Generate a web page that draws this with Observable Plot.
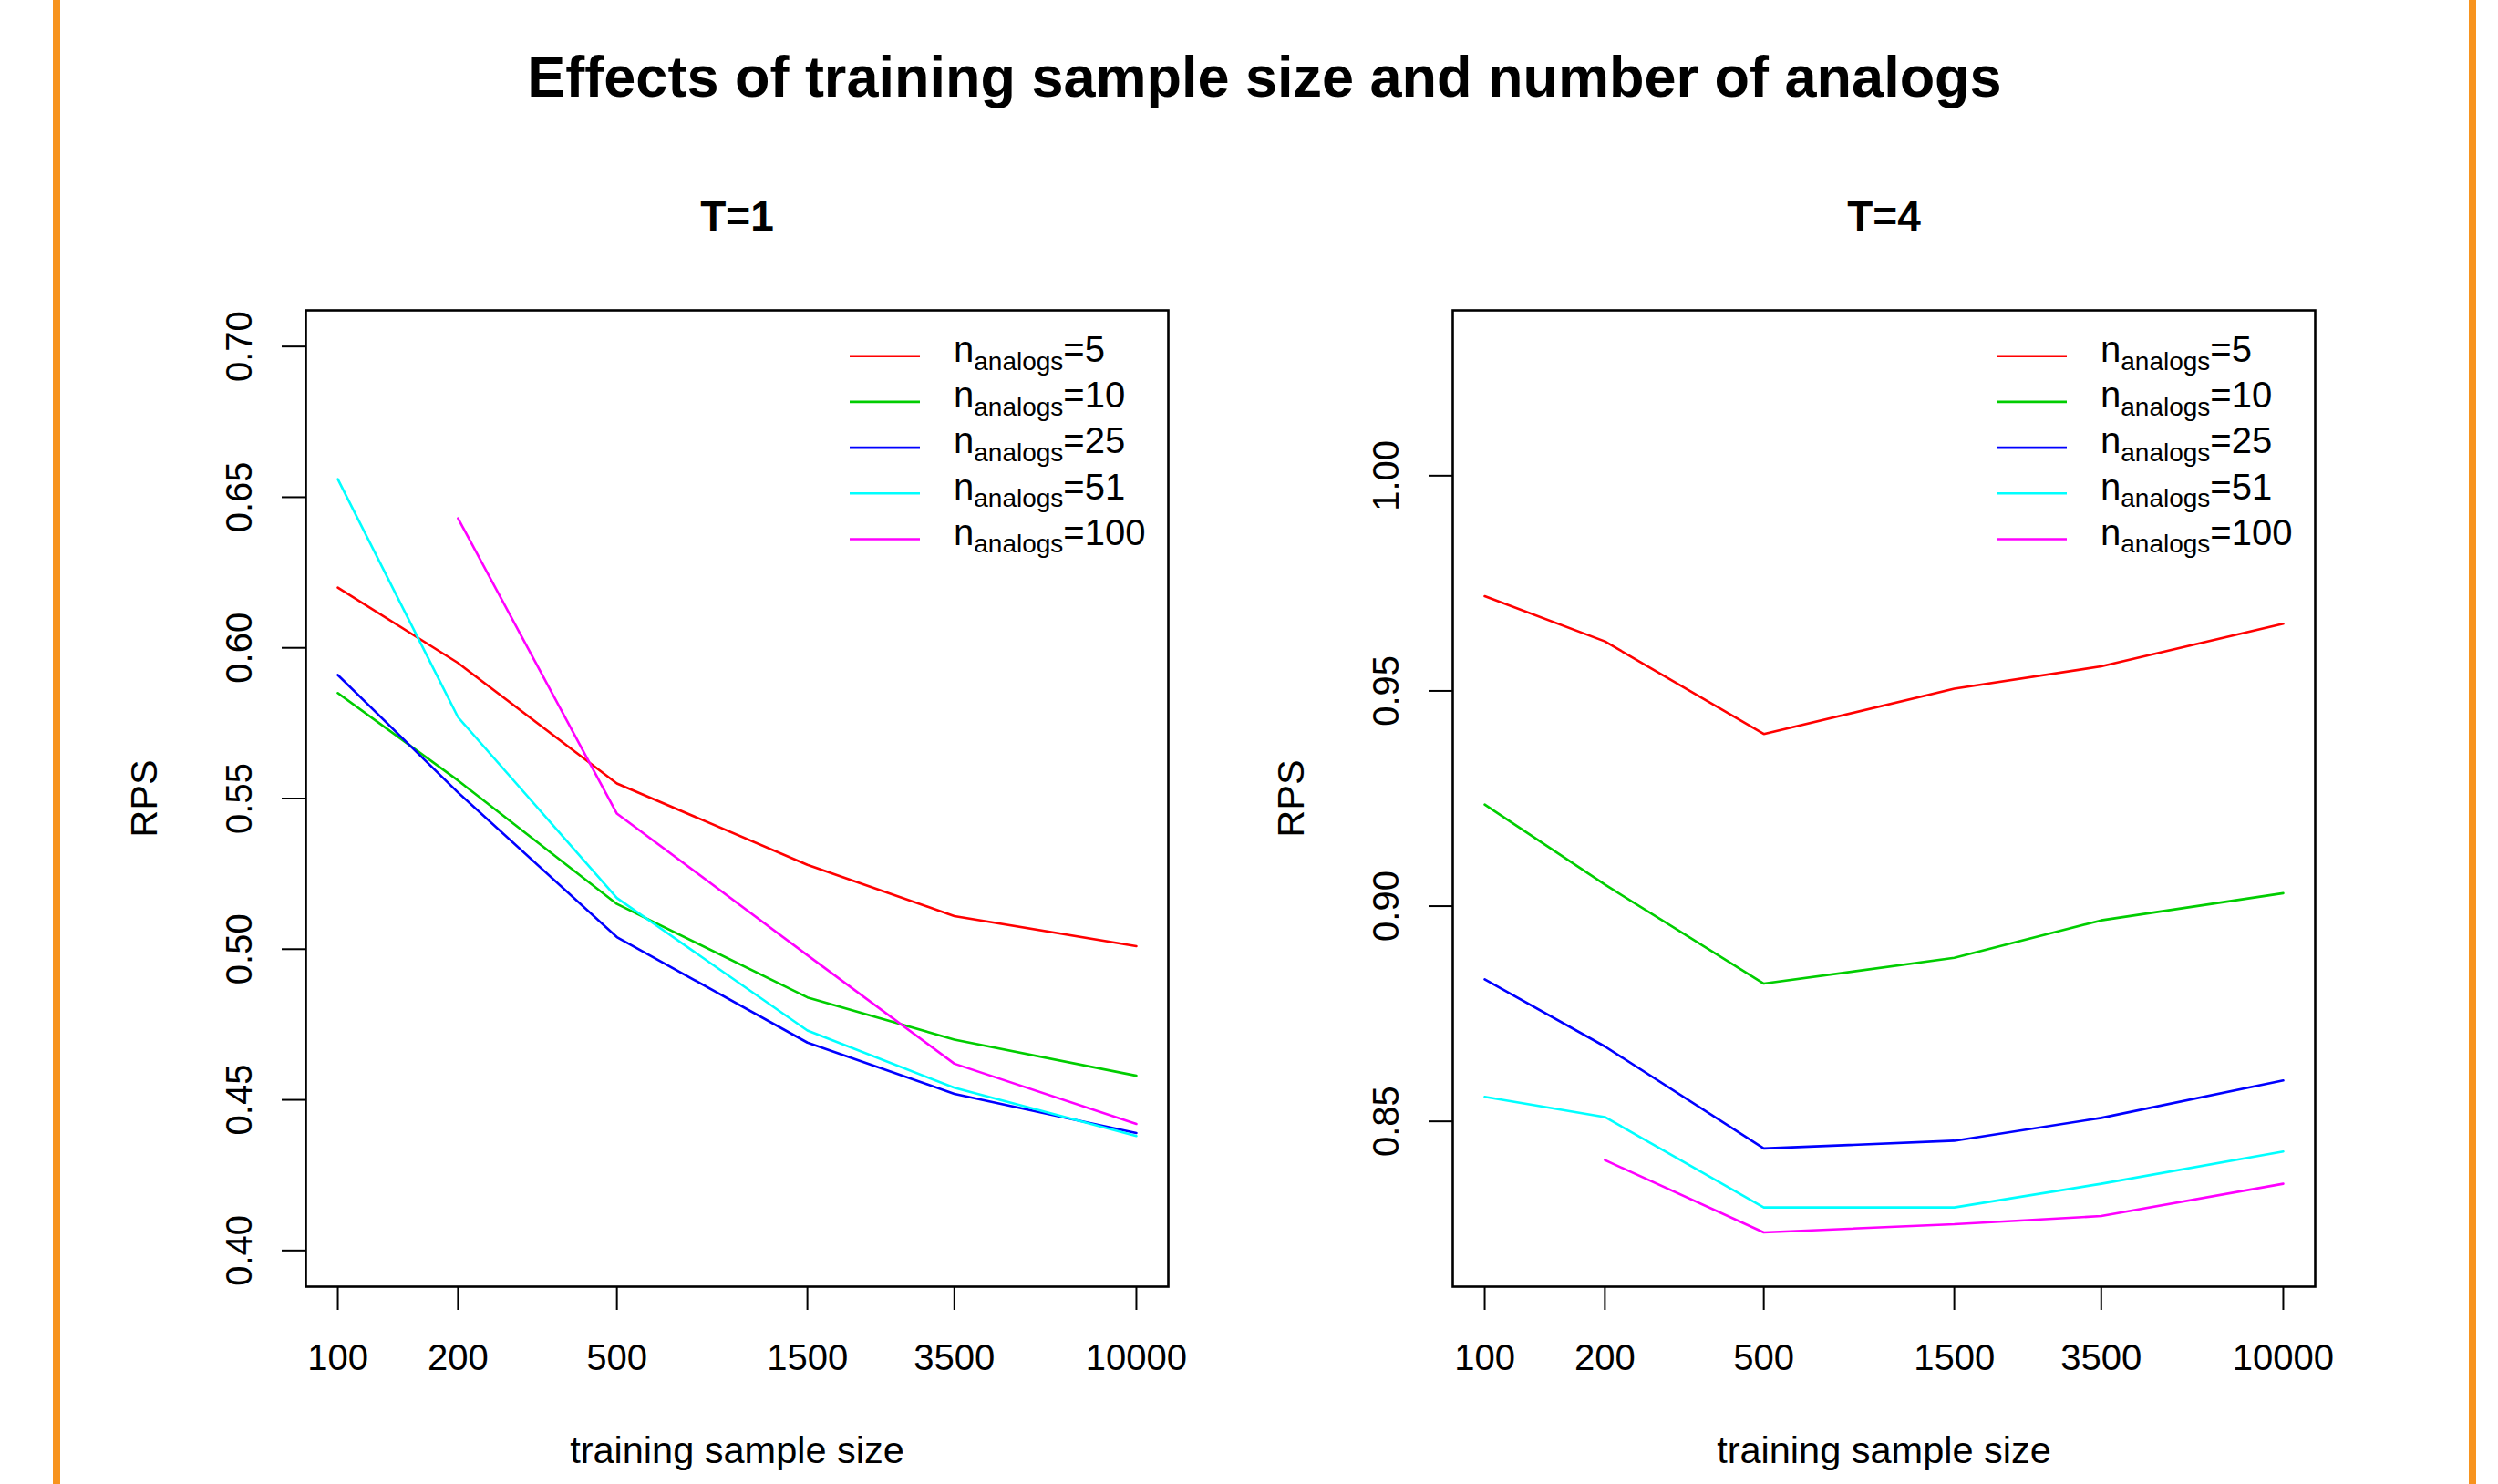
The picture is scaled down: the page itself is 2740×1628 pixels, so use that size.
<!DOCTYPE html>
<html>
<head>
<meta charset="utf-8">
<script src="https://cdn.jsdelivr.net/npm/d3@7"></script>
<script src="https://cdn.jsdelivr.net/npm/@observablehq/plot@0.6"></script>
<style>
  html, body { margin: 0; padding: 0; background: #fff; }
  #page { position: relative; width: 2740px; height: 1628px; overflow: hidden; background: #fff;
          font-family: "Liberation Sans", Arial, Helvetica, sans-serif; color: #000; }
  .bar { position: absolute; top: 0; width: 8px; height: 1628px; background: #F7931E; }
  #title { position: absolute; left: 0; width: 2774px; top: 53px; text-align: center;
           font-weight: bold; font-size: 63px; line-height: 1; white-space: nowrap; }
  .panel { position: absolute; top: 180px; width: 1300px; height: 1448px; }
</style>
</head>
<body>
<div id="page">
  <div class="bar" style="left:58px"></div>
  <div class="bar" style="left:2708px"></div>
  <div id="title">Effects of training sample size and number of analogs</div>
  <div class="panel" id="p1" style="left:100px"></div>
  <div class="panel" id="p2" style="left:1360px"></div>
</div>
<script>
// ---- data ----
const sampleSizes = [100, 200, 500, 1500, 3500, 10000];
const analogs = [5, 10, 25, 51, 100];
const seriesColors = ["#FF0000", "#00CD00", "#0000FF", "#00FFFF", "#FF00FF"];

// T=1 RPS by number of analogs
const rpsT1_5   = [0.620, 0.595, 0.555, 0.528, 0.511, 0.501];
const rpsT1_10  = [0.585, 0.556, 0.515, 0.484, 0.470, 0.458];
const rpsT1_25  = [0.591, 0.552, 0.504, 0.469, 0.452, 0.439];
const rpsT1_51  = [0.656, 0.577, 0.517, 0.473, 0.454, 0.438];
const rpsT1_100 = [null,  0.643, 0.545, 0.498, 0.462, 0.442];

// T=4 RPS by number of analogs
const rpsT4_5   = [0.972, 0.9615, 0.940, 0.9505, 0.9557, 0.9656];
const rpsT4_10  = [0.9236, 0.905, 0.882, 0.888, 0.8967, 0.903];
const rpsT4_25  = [0.883, 0.8674, 0.8437, 0.8455, 0.8508, 0.8595];
const rpsT4_51  = [0.8557, 0.851, 0.830, 0.830, 0.8355, 0.843];
const rpsT4_100 = [null,  0.841, 0.8242, 0.8261, 0.828, 0.8355];

const xTicks = [100, 200, 500, 1500, 3500, 10000];
const yTicksT1 = [0.40, 0.45, 0.50, 0.55, 0.60, 0.65, 0.70];
const yTicksT4 = [0.85, 0.90, 0.95, 1.00];
const ylimT1 = [0.40, 0.70];
const ylimT4 = [0.82, 1.03];

function toRows(seriesList) {
  const rows = [];
  seriesList.forEach((vals, i) => {
    vals.forEach((v, j) => {
      if (v != null) rows.push({size: sampleSizes[j], rps: v, analog: analogs[i]});
    });
  });
  return rows;
}

// R-style 4% axis extension
function extendLinear([a, b]) { const d = (b - a) * 0.04; return [a - d, b + d]; }
function extendLog([a, b]) {
  const la = Math.log10(a), lb = Math.log10(b), d = (lb - la) * 0.04;
  return [Math.pow(10, la - d), Math.pow(10, lb + d)];
}

function panel(el, {title, rows, ylim, yTicks, marginLeft, marginRight}) {
  const width = 1300, height = 1448, marginTop = 160, marginBottom = 217;
  const chart = Plot.plot({
    width, height, marginTop, marginBottom, marginLeft, marginRight,
    style: {fontFamily: "'Liberation Sans', Arial, Helvetica, sans-serif", fontSize: "40px",
            color: "#000", background: "transparent", overflow: "visible"},
    x: {type: "log", domain: extendLog([100, 10000])},
    y: {domain: extendLinear(ylim)},
    color: {type: "ordinal", domain: analogs, range: seriesColors},
    marks: [
      Plot.line(rows, {x: "size", y: "rps", z: "analog", stroke: "analog", strokeWidth: 2.6,
                       strokeLinejoin: "miter", curve: "linear"}),
      Plot.frame({stroke: "#000", strokeWidth: 2.6}),
      Plot.axisX({ticks: xTicks, tickFormat: d => String(d), tickSize: 26, tickPadding: 37,
                  strokeWidth: 2, label: null, fontSize: 40}),
      Plot.axisY({ticks: yTicks, tickFormat: d => d.toFixed(2), tickSize: 26, tickPadding: 34,
                  tickRotate: -90, strokeWidth: 2, label: null, fontSize: 40}),
      Plot.text([title], {frameAnchor: "top", dy: -88, lineAnchor: "bottom", textAnchor: "middle",
                          fontWeight: "bold", fontSize: 46}),
      Plot.text(["training sample size"], {frameAnchor: "bottom", dy: 193, lineAnchor: "bottom",
                                           textAnchor: "middle", fontSize: 41.5}),
      Plot.text(["RPS"], {frameAnchor: "left", dx: -177, rotate: -90, lineAnchor: "middle",
                          textAnchor: "middle", fontSize: 41.5})
    ]
  });

  // legend (no box), top-right inside the frame
  const svg = d3.select(chart);
  const fr = width - marginRight, ft = marginTop;
  const g = svg.append("g")
    .attr("font-family", "'Liberation Sans', Arial, Helvetica, sans-serif")
    .attr("text-anchor", "start");
  analogs.forEach((a, i) => {
    const y = ft + 50.7 + i * 50.2;
    g.append("line")
      .attr("x1", fr - 349).attr("x2", fr - 272)
      .attr("y1", y).attr("y2", y)
      .attr("stroke", seriesColors[i]).attr("stroke-width", 2.6);
    const t = g.append("text").attr("x", fr - 235).attr("y", y + 6.3)
      .attr("text-anchor", "start")
      .attr("font-size", 40).attr("fill", "#000");
    t.append("tspan").text("n");
    t.append("tspan").attr("font-size", 28).attr("dy", 8.5).text("analogs");
    t.append("tspan").attr("dy", -8.5).text("=" + a);
  });
  el.appendChild(chart);
}

panel(document.getElementById("p1"), {
  title: "T=1",
  rows: toRows([rpsT1_5, rpsT1_10, rpsT1_25, rpsT1_51, rpsT1_100]),
  ylim: ylimT1, yTicks: yTicksT1, marginLeft: 235, marginRight: 119
});
panel(document.getElementById("p2"), {
  title: "T=4",
  rows: toRows([rpsT4_5, rpsT4_10, rpsT4_25, rpsT4_51, rpsT4_100]),
  ylim: ylimT4, yTicks: yTicksT4, marginLeft: 233, marginRight: 121
});
</script>
</body>
</html>
